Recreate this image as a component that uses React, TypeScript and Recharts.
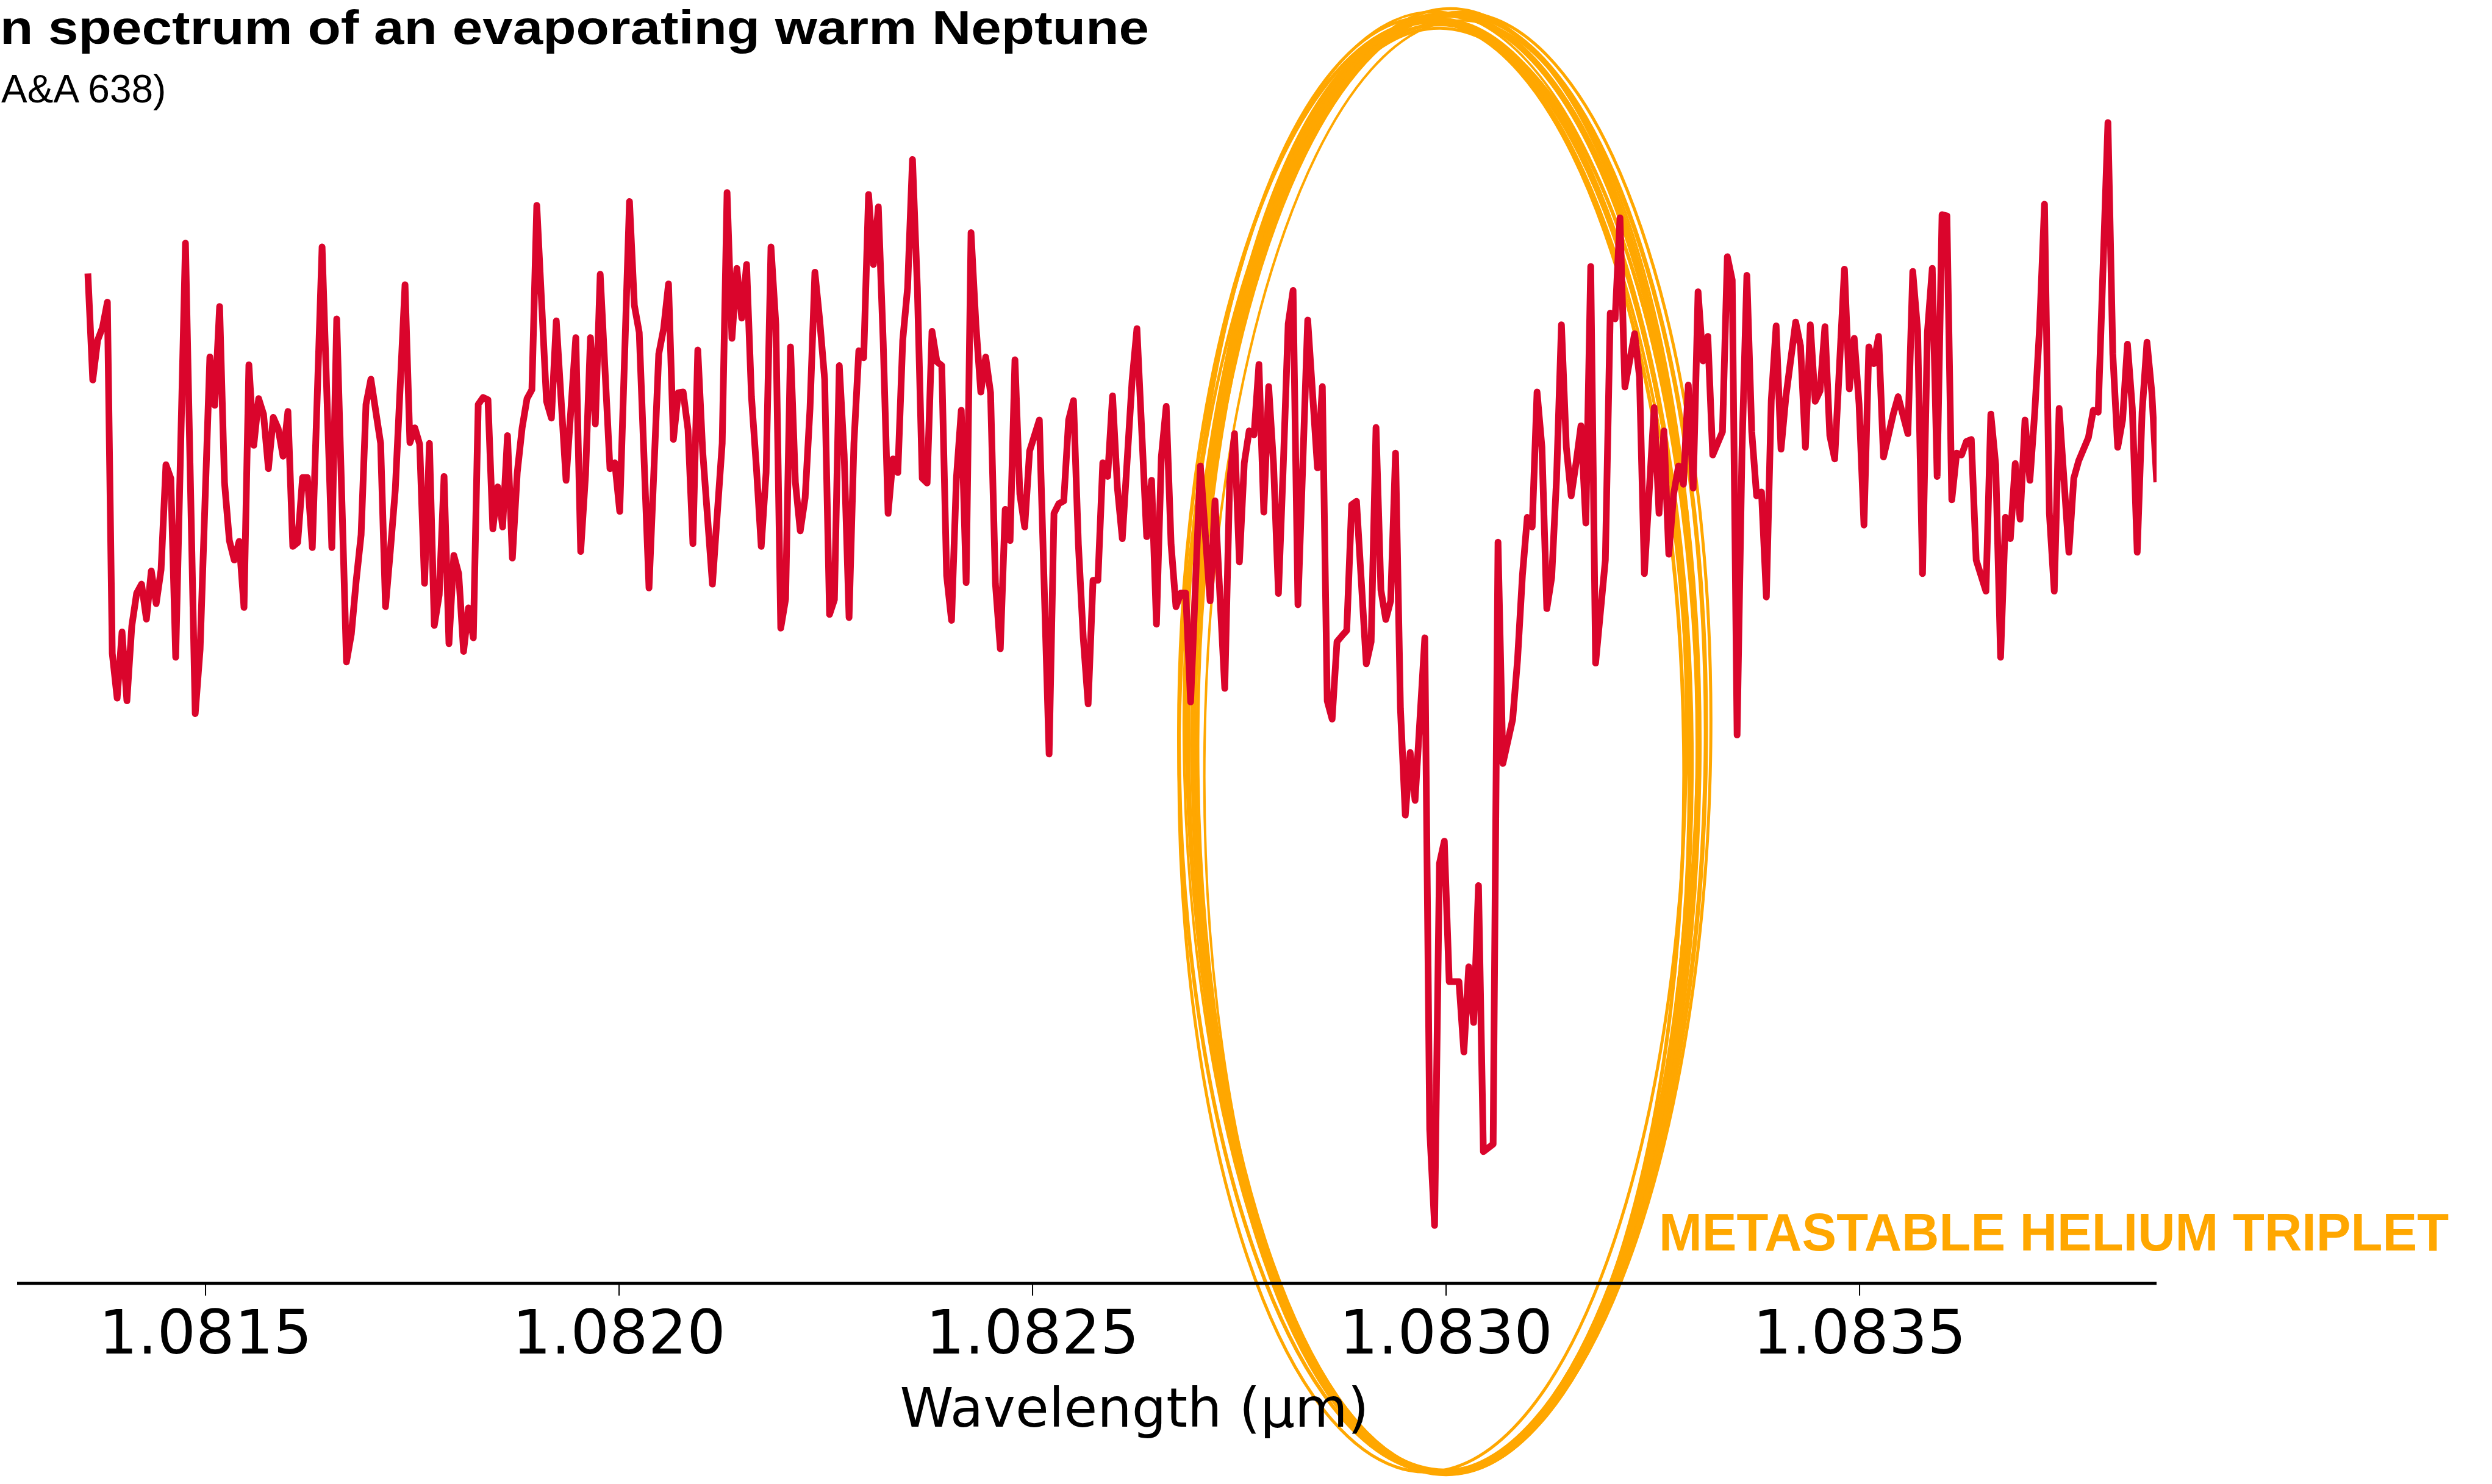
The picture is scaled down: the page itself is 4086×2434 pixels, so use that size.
import React from 'react';
import { LineChart, Line, XAxis, YAxis, ReferenceDot } from 'recharts';

// Spectrograph pixels where the trace changes direction, with the relative flux there
const pixel = [
  0, 1, 2, 3, 4, 5, 6, 7, 8, 9, 10, 11, 12, 13, 14, 15, 16, 17, 18, 20,
  22, 23, 25, 26, 27, 28, 29, 30, 31, 32, 33, 34, 35, 36, 37, 38, 39, 40, 41, 42,
  43, 44, 45, 46, 48, 50, 51, 53, 54, 55, 56, 57, 58, 60, 61, 62, 63, 65, 66, 67,
  68, 69, 70, 71, 72, 73, 74, 75, 76, 77, 78, 79, 80, 81, 82, 83, 84, 85, 86, 87,
  88, 89, 90, 91, 92, 94, 95, 96, 98, 100, 101, 102, 103, 104, 105, 107, 108, 109, 111, 112,
  113, 115, 117, 118, 119, 120, 121, 122, 123, 124, 125, 126, 128, 129, 130, 131, 132, 133, 134, 135,
  136, 137, 138, 139, 140, 141, 142, 143, 144, 145, 146, 147, 148, 149, 150, 151, 152, 153, 154, 155,
  156, 157, 158, 159, 160, 161, 162, 163, 164, 165, 166, 167, 168, 169, 170, 171, 172, 173, 174, 175,
  176, 177, 178, 179, 180, 181, 182, 183, 184, 185, 186, 187, 188, 189, 190, 191, 192, 193, 195, 197,
  198, 199, 200, 201, 202, 203, 204, 205, 206, 207, 208, 209, 210, 211, 212, 214, 215, 217, 218, 219,
  220, 221, 222, 223, 224, 225, 226, 228, 230, 231, 233, 234, 235, 236, 237, 238, 239, 240, 241, 242,
  243, 244, 245, 246, 247, 248, 250, 252, 253, 254, 255, 256, 257, 258, 259, 260, 262, 263, 264, 265,
  266, 267, 268, 269, 270, 271, 272, 274, 275, 276, 277, 278, 279, 281, 282, 283, 284, 285, 286, 288,
  289, 290, 292, 293, 294, 295, 296, 297, 298, 299, 300, 301, 302, 303, 304, 305, 306, 307, 308, 309,
  311, 312, 313, 314, 315, 317, 318, 319, 321, 322, 323, 324, 325, 326, 327, 328, 329, 330, 331, 332,
  333, 335, 336, 337, 338, 339, 340, 341, 342, 343, 344, 345, 346, 347, 348, 350, 351, 352, 353, 354,
  355, 356, 357, 358, 360, 361, 362, 363, 364, 365, 366, 367, 368, 370, 371, 373, 374, 375, 376, 377,
  378, 379, 380, 381, 382, 383, 384, 385, 386, 387, 389, 390, 391, 392, 393, 394, 395, 396, 397, 398,
  399, 400, 401, 402, 403, 404, 406, 407, 408, 410, 411, 412, 414, 415, 416, 417, 418, 419, 420, 421,
  422, 423, 424,
];

const flux = [
  1.00597, 1.00323, 1.00425, 1.00458, 1.00523, 0.9962, 0.99505, 0.99675, 0.99498, 0.9969,
  0.99775, 0.99798, 0.99708, 0.99832, 0.99748, 0.99835, 1.00105, 1.0007, 0.9961, 1.00675,
  0.99465, 0.9963, 1.00382, 1.00258, 1.00512, 1.0006, 0.9991, 0.9986, 0.99908, 0.99738,
  1.00362, 1.00155, 1.00275, 1.00235, 1.00095, 1.00227, 1.00198, 1.00127, 1.00242, 0.99895,
  0.99905, 1.00072, 1.00072, 0.99892, 1.00665, 0.99892, 1.0048, 0.99598, 0.9967, 0.99808,
  0.99925, 1.0026, 1.00325, 1.0016, 0.9974, 0.99885, 1.0004, 1.00568, 1.00162, 1.002,
  1.00158, 0.998, 1.0016, 0.99692, 0.9977, 1.00075, 0.99645, 0.99872, 0.99825, 0.99625,
  0.99737, 0.9966, 1.0026, 1.00278, 1.00272, 0.9994, 1.00048, 0.99945, 1.0018, 0.99865,
  1.00085, 1.002, 1.00275, 1.00298, 1.00772, 1.00268, 1.00225, 1.00475, 1.00065, 1.00432,
  0.99882, 1.0008, 1.00432, 1.0021, 1.00595, 1.00095, 1.0011, 0.99985, 1.00782, 1.00515,
  1.00445, 0.99788, 1.0039, 1.00455, 1.0057, 1.0017, 1.0029, 1.00292, 1.00195, 0.99902,
  1.004, 1.0014, 0.99798, 0.9998, 1.0016, 1.00805, 1.0043, 1.0061, 1.00482, 1.0062,
  1.0028, 1.001, 0.99895, 1.00085, 1.00665, 1.00465, 0.99685, 0.9976, 1.00408, 1.0006,
  0.99935, 1.0002, 1.0025, 1.006, 1.00475, 1.00325, 0.9972, 0.99758, 1.0036, 1.0013,
  0.99712, 1.0016, 1.00398, 1.0038, 1.008, 1.0062, 1.00768, 1.0042, 0.9998, 1.0012,
  1.00085, 1.00425, 1.0056, 1.0089, 1.0056, 1.0007, 1.00058, 1.00448, 1.0037, 1.0036,
  0.9982, 0.99705, 1.0007, 1.00245, 0.99802, 1.00702, 1.00465, 1.00292, 1.00382, 1.0029,
  0.998, 0.99632, 0.9999, 0.9991, 1.00375, 1.0003, 0.99945, 1.0014, 1.0022, 0.99361,
  0.9998, 1.00005, 1.00012, 1.0022, 1.0027, 0.999, 0.9966, 0.9949, 0.99808, 0.99808,
  1.0011, 1.00075, 1.00282, 1.00045, 0.99915, 1.0032, 1.00455, 0.9992, 1.00065, 0.99695,
  1.00125, 1.00255, 0.999, 0.9974, 0.99775, 0.99775, 0.99495, 1.00102, 0.99755, 1.00012,
  0.9953, 1.0006, 1.00185, 0.99855, 1.0011, 1.00192, 1.00182, 1.00363, 0.99983, 1.00306,
  1.00106, 0.99774, 1.00106, 1.00467, 1.00553, 0.99745, 1.00477, 1.00097, 1.00306, 0.99498,
  0.99451, 0.9965, 0.99665, 0.99679, 1.00002, 1.00011, 0.99593, 0.9965, 1.00201, 0.99783,
  0.99707, 0.99755, 1.00135, 0.99479, 0.99204, 0.99365, 0.99242, 0.9966, 0.98396, 0.98149,
  0.9908, 0.99137, 0.98776, 0.98776, 0.98595, 0.98814, 0.98671, 0.99023, 0.98339, 0.98358,
  0.99906, 0.99337, 0.9945, 0.99603, 0.9982, 0.9997, 0.99945, 1.00292, 1.0015, 0.99735,
  0.99815, 1.0007, 1.00465, 1.0015, 1.00025, 1.0011, 1.00205, 0.99955, 1.00615, 0.99595,
  0.9986, 1.00495, 1.0048, 1.0074, 1.00305, 1.00442, 1.0033, 0.99825, 1.00252, 0.9998,
  1.00192, 0.99875, 1.0003, 1.00102, 1.00055, 1.0031, 1.00045, 1.0055, 1.00372, 1.00435,
  1.0013, 1.0019, 1.0064, 1.0058, 0.9941, 1.0014, 1.00592, 1.0019, 1.00025, 1.00035,
  0.99765, 1.0027, 1.00462, 1.00145, 1.0028, 1.00472, 1.0041, 1.0015, 1.00465, 1.00268,
  1.00295, 1.0046, 1.0018, 1.0012, 1.00608, 1.003, 1.0043, 1.0026, 0.9995, 1.00408,
  1.00365, 1.00435, 1.00125, 1.00235, 1.0028, 1.00185, 1.00602, 1.0045, 0.99825, 1.00445,
  1.0061, 1.00075, 1.00748, 1.00745, 1.00015, 1.00135, 1.0013, 1.00165, 1.0017, 0.9986,
  0.9978, 1.00235, 1.00105, 0.9961, 0.9997, 0.99915, 1.00108, 0.99965, 1.0022, 1.00065,
  1.0024, 1.0046, 1.00775, 0.9998, 0.9978, 1.0025, 0.9988, 1.0007, 1.00115, 1.00175,
  1.00245, 1.0024, 1.00985, 1.0039, 1.0015, 1.0022, 1.00415, 1.0025, 0.9988, 1.0024,
  1.0042, 1.0029, 1.0006,
];

// Wavelength solution of the order (µm)
const lambdaStart = 1.0813577;
const lambdaStep = 0.0000059;

const wavelengthTicks = [1.0815, 1.082, 1.0825, 1.083, 1.0835];
const wavelengthRange = [1.0812721, 1.0838591];
const fluxRange = [0.98, 1.013];

// He I 10830 triplet marker
const heliumWavelength = 1.083;
const heliumRingLevel = 0.99387;

const data = pixel.map((p, i) => ({
  wavelength: lambdaStart + p * lambdaStep,
  flux: flux[i],
}));

const RED = '#DA052C';
const ORANGE = '#FFA700';

// hand-drawn look: several slightly offset passes of the same ellipse
const ringPasses = [
  { dx: 0, dy: 0, rx: 414, ry: 1196, rot: 0, w: 10 },
  { dx: -6, dy: 4, rx: 408, ry: 1192, rot: -0.5, w: 8 },
  { dx: 6, dy: -3, rx: 420, ry: 1195, rot: 0.4, w: 7 },
  { dx: -12, dy: 6, rx: 402, ry: 1190, rot: -0.8, w: 6 },
  { dx: 10, dy: -2, rx: 424, ry: 1198, rot: 0.7, w: 5 },
  { dx: -4, dy: 8, rx: 418, ry: 1188, rot: -0.3, w: 6 },
  { dx: 3, dy: -6, rx: 410, ry: 1200, rot: 0.2, w: 5 },
  { dx: -14, dy: 2, rx: 412, ry: 1194, rot: -1.0, w: 5 },
  { dx: 8, dy: 5, rx: 404, ry: 1192, rot: 0.9, w: 4 },
  { dx: -9, dy: -4, rx: 421, ry: 1197, rot: -0.6, w: 4 },
  { dx: -18, dy: 4, rx: 420, ry: 1190, rot: -0.4, w: 6 },
  { dx: -22, dy: 10, rx: 416, ry: 1184, rot: 0.6, w: 5 },
];

function HeliumRing(props: any) {
  const { cx, cy } = props;
  return (
    <g>
      {ringPasses.map((p, i) => (
        <ellipse
          key={i}
          cx={cx + p.dx}
          cy={cy + p.dy}
          rx={p.rx}
          ry={p.ry}
          fill="none"
          stroke={ORANGE}
          strokeWidth={p.w}
          transform={`rotate(${p.rot} ${cx + p.dx} ${cy + p.dy})`}
        />
      ))}
      <text
        x={cx + 349}
        y={cy + 831}
        fill={ORANGE}
        fontFamily="'Liberation Sans', Arial, sans-serif"
        fontWeight={700}
        fontSize={88}
        textLength={1295}
        lengthAdjust="spacingAndGlyphs"
      >
        METASTABLE HELIUM TRIPLET
      </text>
    </g>
  );
}

function AxisTitle(props: any) {
  const { viewBox } = props;
  return (
    <text
      x={viewBox.x + viewBox.width / 2 + 78}
      y={viewBox.y + 235}
      textAnchor="middle"
      fill="#000"
      fontFamily="'DejaVu Sans', sans-serif"
      fontSize={89}
    >
      Wavelength (µm)
    </text>
  );
}

export default function App() {
  return (
    <div
      style={{
        position: 'absolute',
        left: 0,
        top: 0,
        width: 4086,
        height: 2434,
        background: '#fff',
        overflow: 'hidden',
      }}
    >
      <svg width={4086} height={200} style={{ position: 'absolute', left: 0, top: 0 }}>
        <text
          x={0}
          y={72}
          fill="#000"
          fontFamily="'Liberation Sans', Arial, sans-serif"
          fontWeight={700}
          fontSize={78}
          textLength={1884}
          lengthAdjust="spacingAndGlyphs"
        >
          n spectrum of an evaporating warm Neptune
        </text>
        <text
          x={2}
          y={168}
          fill="#000"
          fontFamily="'Liberation Sans', Arial, sans-serif"
          fontSize={64}
        >
          A&amp;A 638)
        </text>
      </svg>
      <LineChart
        width={4086}
        height={2434}
        data={data}
        margin={{ top: 0, right: 550, bottom: 0, left: 28 }}
        style={{ position: 'absolute', left: 0, top: 0 }}
      >
        <XAxis
          type="number"
          dataKey="wavelength"
          domain={wavelengthRange}
          allowDataOverflow
          ticks={wavelengthTicks}
          interval={0}
          tickFormatter={(v: number) => v.toFixed(4)}
          height={329}
          axisLine={{ stroke: '#000', strokeWidth: 5 }}
          tickLine={{ stroke: '#000', strokeWidth: 2 }}
          tickSize={20}
          tickMargin={24}
          tick={{ fill: '#000', fontSize: 100, fontFamily: "'DejaVu Sans', sans-serif" }}
          label={{ content: AxisTitle }}
        />
        <YAxis hide type="number" domain={fluxRange} allowDataOverflow />
        <ReferenceDot
          x={heliumWavelength}
          y={heliumRingLevel}
          ifOverflow="visible"
          shape={HeliumRing}
          zIndex={0}
        />
        <Line
          type="linear"
          dataKey="flux"
          stroke={RED}
          strokeWidth={11}
          strokeLinejoin="round"
          dot={false}
          activeDot={false}
          isAnimationActive={false}
        />
      </LineChart>
    </div>
  );
}
